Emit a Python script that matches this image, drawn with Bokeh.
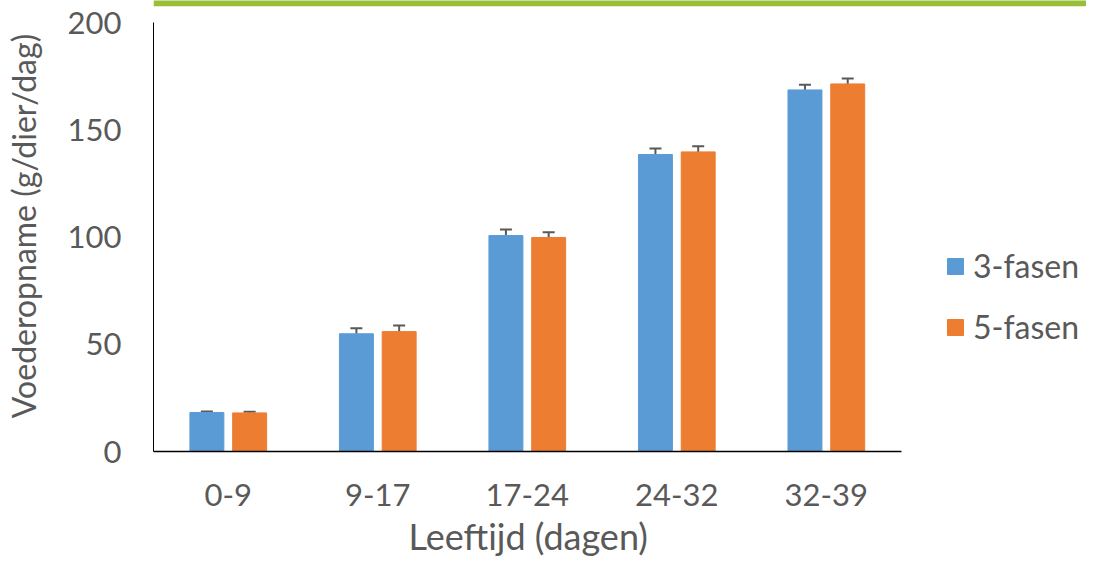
from bokeh.plotting import figure
from bokeh.models import ColumnDataSource, Whisker, Legend, LegendItem, FixedTicker, Range1d, BoxAnnotation, Title
from bokeh.transform import dodge
from bokeh.embed import file_html
from bokeh.resources import INLINE

categories = ["0-9", "9-17", "17-24", "24-32", "32-39"]
fasen3 = [18.2, 54.9, 100.7, 138.5, 168.6]
fasen3_err = [0.5, 2.6, 2.8, 2.8, 2.4]
fasen5 = [18.0, 55.9, 99.8, 139.7, 171.4]
fasen5_err = [0.5, 2.8, 2.4, 2.6, 2.5]
series_names = ["3-fasen", "5-fasen"]
y_ticks = [0, 50, 100, 150, 200]
x_title = "Leeftijd (dagen)"
y_title = "Voederopname (g/dier/dag)"

FONT = "Lato"
GREY = "#595959"
BLUE = "#5B9BD5"
ORANGE = "#ED7D31"
GREEN = "#99BE3A"

idx = list(range(len(categories)))
src = ColumnDataSource(dict(
    x=idx,
    a=fasen3, a_hi=[v + e for v, e in zip(fasen3, fasen3_err)],
    b=fasen5, b_hi=[v + e for v, e in zip(fasen5, fasen5_err)],
))

Y_END = 210.3
p = figure(x_range=Range1d(-0.5, 5.74), y_range=Range1d(0, Y_END),
           width=1086, height=563, output_backend="svg", toolbar_location=None,
           min_border_left=150, min_border_right=0, min_border_top=0, min_border_bottom=112,
           outline_line_color=None)

r1 = p.vbar(x=dodge("x", -0.143), top="a", width=0.227, source=src,
            fill_color=BLUE, line_color=BLUE)
r2 = p.vbar(x=dodge("x", 0.143), top="b", width=0.227, source=src,
            fill_color=ORANGE, line_color=ORANGE)

for off, lo, hi in [(-0.143, "a", "a_hi"), (0.143, "b", "b_hi")]:
    w = Whisker(source=src, base=dodge("x", off), lower=lo, upper=hi,
                line_color=GREY, line_width=2, lower_head=None)
    w.upper_head.size = 12
    w.upper_head.line_color = GREY
    w.upper_head.line_width = 2
    p.add_layout(w)

p.add_layout(BoxAnnotation(bottom=Y_END - 2.7, top=Y_END + 1, fill_color=GREEN,
                           fill_alpha=1, line_color=None))

p.grid.visible = False
p.xaxis.ticker = FixedTicker(ticks=idx)
p.xaxis.major_label_overrides = {i: c for i, c in zip(idx, categories)}
p.xaxis.bounds = (-0.5, len(categories) - 0.5)
p.yaxis.ticker = FixedTicker(ticks=y_ticks)
p.yaxis.bounds = (0, 200)
for ax in (p.xaxis[0], p.yaxis[0]):
    ax.major_tick_line_color = None
    ax.minor_tick_line_color = None
    ax.major_label_text_font = FONT
    ax.major_label_text_font_size = "31px"
    ax.major_label_text_color = GREY
    ax.axis_label_text_font = FONT
    ax.axis_label_text_font_size = "32px"
    ax.axis_label_text_color = GREY
    ax.axis_label_text_font_style = "normal"
    ax.axis_line_color = "black"
p.yaxis.axis_line_width = 1
p.xaxis.axis_line_width = 1.5
p.yaxis.axis_label = y_title
p.yaxis.major_label_standoff = 26
p.xaxis.major_label_standoff = 26
p.yaxis.axis_label_standoff = 22

p.add_layout(Title(text=x_title, align="left", offset=255, standoff=6,
                   text_font=FONT, text_font_size="36px", text_color=GREY,
                   text_font_style="normal"), "below")

legend = Legend(items=[LegendItem(label=series_names[0], renderers=[r1]),
                       LegendItem(label=series_names[1], renderers=[r2])],
                location=(792, 105), padding=0, margin=0, spacing=22,
                glyph_width=20, glyph_height=20, label_standoff=8,
                label_text_font=FONT, label_text_font_size="32px", label_text_color=GREY,
                label_height=30, border_line_color=None, background_fill_alpha=0)
p.add_layout(legend, "center")

open("out.html", "w").write(file_html(p, INLINE))
